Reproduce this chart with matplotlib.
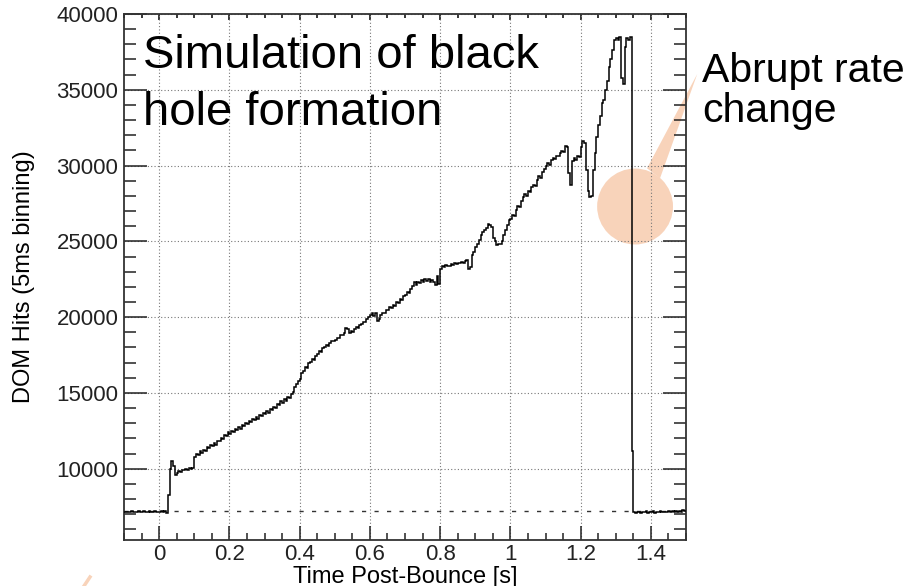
import matplotlib
matplotlib.use("Agg")
import matplotlib.pyplot as plt
import numpy as np
from matplotlib.patches import Ellipse, Polygon
from matplotlib.ticker import MultipleLocator

plt.rcParams["font.family"] = ["Liberation Sans", "DejaVu Sans"]

# DOM hits per 5 ms bin, starting at t = -0.1 s (one row = 0.1 s)
bin_start = -0.1
bin_width = 0.005
hits = [
    7180, 7120, 7160, 7140, 7200, 7130, 7170, 7150, 7210, 7140, 7160, 7190, 7130, 7170, 7200, 7150, 7180, 7230, 7160, 7140,
    7170, 7200, 7160, 7190, 7050, 8300, 10000, 10500, 10150, 9600, 9750, 9850, 9800, 9950, 9900, 10000, 9950, 10050, 10000, 10050,
    10800, 10950, 10900, 11150, 11050, 11250, 11200, 11450, 11350, 11550, 11500, 11700, 11600, 11850, 11800, 12050, 11950, 12200, 12150, 12400,
    12300, 12500, 12400, 12650, 12550, 12750, 12650, 12900, 12800, 13050, 12950, 13150, 13100, 13300, 13200, 13400, 13300, 13550, 13450, 13650,
    13600, 13800, 13700, 13950, 13850, 14100, 14000, 14300, 14200, 14450, 14350, 14600, 14500, 14750, 14650, 14950, 15050, 15400, 15600, 15800,
    15950, 16300, 16450, 16700, 16650, 16950, 17050, 17250, 17200, 17450, 17550, 17750, 17700, 17950, 18050, 18150, 18100, 18300, 18400, 18450,
    18500, 18650, 18600, 18800, 18850, 18950, 19300, 19250, 18950, 19100, 19050, 19250, 19350, 19300, 19500, 19550, 19700, 19650, 19850, 20000,
    20150, 20250, 20050, 20300, 19750, 19850, 20150, 20300, 20250, 20500, 20450, 20650, 20600, 20800, 20750, 21000, 20950, 21200, 21150, 21400,
    21450, 21650, 21600, 21850, 22050, 22300, 22150, 22350, 22250, 22450, 22350, 22500, 22400, 22550, 22350, 22450, 22300, 22150, 22700, 22200,
    23200, 23350, 23300, 23450, 23400, 23350, 23500, 23450, 23550, 23500, 23600, 23550, 23650, 23600, 23700, 23750, 23200, 23300, 24100, 24300,
    24600, 24800, 25100, 25400, 25600, 25750, 25900, 26150, 26100, 25950, 25200, 25000, 24750, 24800, 24850, 25000, 25400, 25750, 26100, 26400,
    26500, 26750, 26650, 27050, 27350, 27300, 27650, 27950, 28100, 28000, 28300, 28250, 28600, 28750, 28650, 29050, 29300, 29200, 29600, 29800,
    30000, 30150, 30050, 30400, 30500, 30450, 30650, 30600, 30800, 30950, 30900, 31300, 31200, 29500, 28700, 30300, 30500, 30400, 30600, 30550,
    31200, 31600, 31500, 29700, 28300, 27900, 28000, 29700, 30800, 31900, 32700, 33300, 34100, 34300, 35000, 35600, 36500, 37000, 37600, 38300,
    38400, 38300, 38450, 35800, 35400, 37800, 38400, 38300, 38450, 11200, 7150, 7100, 7180, 7120, 7090, 7150, 7130, 7200, 7110, 7160,
    7140, 7190, 7100, 7170, 7150, 7210, 7120, 7160, 7180, 7130, 7200, 7150, 7190, 7140, 7220, 7170, 7230, 7180, 7260, 7200,
]
background = 7230

x_ticks = [0, 0.2, 0.4, 0.6, 0.8, 1.0, 1.2, 1.4]
x_tick_labels = ["0", "0.2", "0.4", "0.6", "0.8", "1", "1.2", "1.4"]
y_ticks = [10000, 15000, 20000, 25000, 30000, 35000, 40000]

# highlighted region around the collapse
spot_center = (1.355, 27300)
callout_tip = [(1.389, 29820), (1.426, 29160), (1.532, 36040)]
peach = "#F8D3BA"

fig = plt.figure(figsize=(9.21, 5.86), dpi=100)
ax = fig.add_axes([124 / 921, 1 - 540 / 586, 562 / 921, 526 / 586])

edges = bin_start + bin_width * np.arange(len(hits) + 1)
ax.axhline(background, color="#333333", lw=1.0, ls=(0, (3, 6)), zorder=1.8)
ax.stairs(hits, edges, baseline=None, color="black", lw=1.1, zorder=3)

ax.add_patch(Ellipse(spot_center, width=0.216, height=5010, facecolor=peach,
                     edgecolor="none", zorder=1))
ax.add_patch(Polygon(callout_tip, closed=True, facecolor=peach, edgecolor="none",
                     clip_on=False, zorder=1))

ax.set_xlim(-0.1, 1.5)
ax.set_ylim(5300, 40000)
ax.set_xticks(x_ticks, x_tick_labels)
ax.set_yticks(y_ticks)
ax.xaxis.set_minor_locator(MultipleLocator(0.05))
ax.yaxis.set_minor_locator(MultipleLocator(1000))

ax.grid(True, which="major", color="#777777", lw=0.8, ls=(0, (1, 2)))

ax.tick_params(axis="both", which="both", direction="in", width=1.1,
               labelsize=16, colors="#222222")
ax.tick_params(axis="y", which="major", length=16.5, right=True, pad=4)
ax.tick_params(axis="y", which="minor", length=8.6, right=True)
ax.tick_params(axis="x", which="major", length=10, pad=3)
ax.tick_params(axis="x", which="minor", length=5)
for side in ax.spines.values():
    side.set_linewidth(1.3)
    side.set_color("#333333")

# short ticks along the top edge
top = ax.secondary_xaxis("top")
top.set_xticks(x_ticks)
top.xaxis.set_minor_locator(MultipleLocator(0.05))
top.tick_params(which="major", direction="in", length=4.3, width=1.1, labeltop=False)
top.tick_params(which="minor", direction="in", length=2.9, width=1.1)
top.spines["top"].set_visible(False)

ax.set_xlabel("Time Post-Bounce [s]", fontsize=17)
ax.xaxis.set_label_coords(0.5, -0.0494)
ax.set_ylabel("DOM Hits (5ms binning)", fontsize=17)
ax.yaxis.set_label_coords(-0.158, 0.5)

fig.text(143 / 921, 1 - 68 / 586, "Simulation of black", fontsize=34, va="baseline")
fig.text(143 / 921, 1 - 125 / 586, "hole formation", fontsize=34, va="baseline")
fig.text(702 / 921, 1 - 82 / 586, "Abrupt rate", fontsize=29.5, va="baseline")
fig.text(702 / 921, 1 - 122 / 586, "change", fontsize=29.5, va="baseline")

# edge of another callout peeking in at the bottom left
fig.add_artist(plt.Line2D([84 / 921, 90 / 921], [0, 1 - 577 / 586], color=peach,
                          lw=2.5, transform=fig.transFigure))

fig.savefig("out.png", dpi=100)
